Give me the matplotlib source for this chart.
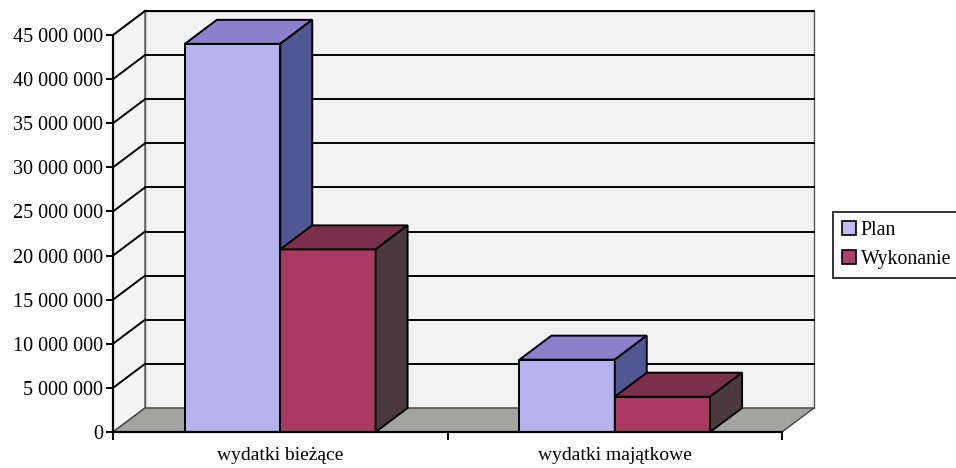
import matplotlib
matplotlib.use("Agg")
import matplotlib.pyplot as plt
from matplotlib.patches import Polygon
import numpy as np

plt.rcParams['font.family'] = ['Liberation Serif', 'DejaVu Serif']

categories = ["wydatki bieżące", "wydatki majątkowe"]
series = ["Plan", "Wykonanie"]
plan = [44_000_000, 8_200_000]
wykonanie = [20_700_000, 4_000_000]
yticks = np.arange(0, 45_000_001, 5_000_000)

# kolory: przód, góra, bok
colors = {
    "Plan": ("#b6b2f0", "#8c80cc", "#4f5692"),
    "Wykonanie": ("#a83a62", "#7a2f4a", "#4a3a3f"),
}

W, H = 956, 468
fig = plt.figure(figsize=(W / 100, H / 100), dpi=100)
ax = fig.add_axes([113 / W, 36 / H, 669 / W, 397 / H])
xmin, xmax = -0.5, 1.5
ymax = 45_000_000
ax.set_xlim(xmin, xmax)
ax.set_ylim(0, ymax)
ax.patch.set_visible(False)

# przesunięcie "głębi" w pikselach -> jednostki danych
ddx = 32 * (xmax - xmin) / 669
ddy = 24 * ymax / 397

def poly(pts, fc, ec="black", lw=1.4, z=1):
    ax.add_patch(Polygon(pts, closed=True, facecolor=fc, edgecolor=ec,
                         linewidth=lw, zorder=z, clip_on=False, joinstyle="miter"))

# ściana tylna
poly([(xmin + ddx, ddy), (xmax + ddx, ddy), (xmax + ddx, ymax + ddy),
      (xmin + ddx, ymax + ddy)], "#f1f1f1", ec="#555555", lw=1.0, z=0)
# ściana boczna
poly([(xmin, 0), (xmin + ddx, ddy), (xmin + ddx, ymax + ddy), (xmin, ymax)],
     "#f4f4f4", ec="#555555", lw=1.0, z=0)
# linie siatki
for v in yticks[1:]:
    ax.plot([xmin + ddx, xmax + ddx], [v + ddy, v + ddy], color="black",
            lw=1.4, zorder=0.5, clip_on=False)
    ax.plot([xmin, xmin + ddx], [v, v + ddy], color="black",
            lw=1.4, zorder=0.5, clip_on=False)
# podłoga
poly([(xmin, 0), (xmax, 0), (xmax + ddx, ddy), (xmin + ddx, ddy)],
     "#a3a4a2", ec="#444444", lw=1.0, z=0.6)

# słupki
bw = 0.285
for i in range(len(categories)):
    for j, (name, vals) in enumerate(zip(series, [plan, wykonanie])):
        x0 = i - bw + j * bw
        x1 = x0 + bw
        h = vals[i]
        front, top, side = colors[name]
        z = 2 + i * 2 + j
        poly([(x0, 0), (x1, 0), (x1, h), (x0, h)], front, z=z)
        poly([(x0, h), (x1, h), (x1 + ddx, h + ddy), (x0 + ddx, h + ddy)], top, z=z)
        poly([(x1, 0), (x1 + ddx, ddy), (x1 + ddx, h + ddy), (x1, h)], side, z=z)

# osie
for s in ["top", "right"]:
    ax.spines[s].set_visible(False)
for s in ["left", "bottom"]:
    ax.spines[s].set_linewidth(1.6)
    ax.spines[s].set_zorder(10)

ax.set_yticks(yticks)
ax.set_yticklabels([f"{int(v):,}".replace(",", " ") for v in yticks], fontsize=14.5)
ax.tick_params(axis="y", length=5, width=1.4, pad=2)

ax.set_xticks([xmin, 0.5, xmax])
ax.set_xticklabels([])
ax.set_xticks([0, 1], minor=True)
ax.set_xticklabels(categories, minor=True, fontsize=14)
ax.tick_params(axis="x", which="major", length=6, width=1.4)
ax.tick_params(axis="x", which="minor", length=0, pad=11)

# legenda
handles = [Polygon([(0, 0)], facecolor=c, edgecolor="black", lw=1.2)
           for c in ["#c2bcf2", "#a8406a"]]
leg = fig.legend(handles, series, loc="center left", bbox_to_anchor=(833 / W, 1 - 245 / H),
                 fontsize=14.3, frameon=True, fancybox=False, edgecolor="black",
                 handlelength=0.7, handleheight=0.7, handletextpad=0.25,
                 borderpad=0.45, labelspacing=0.5, borderaxespad=0)
leg.get_frame().set_linewidth(1.4)

fig.savefig("out.png", dpi=100)
